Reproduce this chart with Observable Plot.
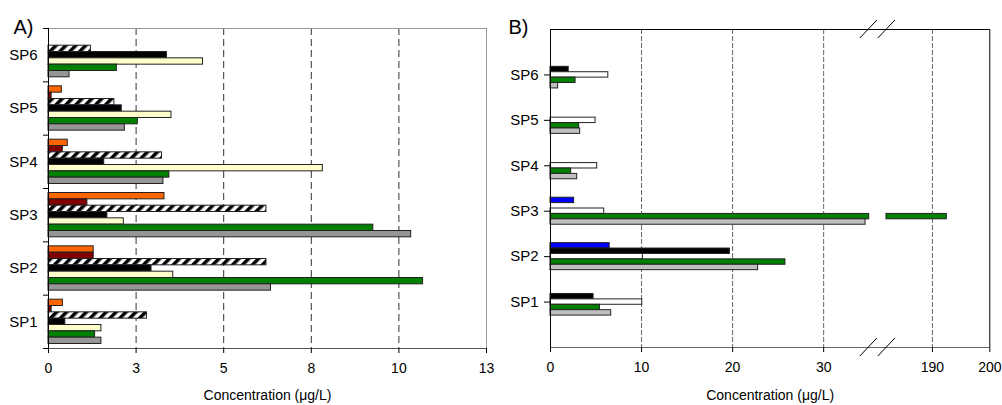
<!DOCTYPE html>
<html><head><meta charset="utf-8">
<script src="https://cdn.jsdelivr.net/npm/d3@7"></script>
<script src="https://cdn.jsdelivr.net/npm/@observablehq/plot@0.6"></script>
<style>
body{margin:0;background:#fff;}
#wrap{position:relative;width:1002px;height:405px;font-family:"Liberation Sans",Arial,sans-serif;}
#wrap svg{position:absolute;top:0;overflow:visible;}
</style></head><body><div id="wrap"></div>
<script>
// ---------- data ----------
const categories = ["SP1","SP2","SP3","SP4","SP5","SP6"];

// Panel A series (values for SP1..SP6), listed top-to-bottom within each group
const a_orange  = [0.41, 1.29, 3.31, 0.55, 0.38, null];
const a_darkred = [0.09, 1.29, 1.11, 0.41, 0.09, null];
const a_hatched = [2.81, 6.22, 6.22, 3.24, 1.88, 1.21];
const a_black   = [0.48, 2.94, 1.68, 1.59, 2.09, 3.38];
const a_cream   = [1.51, 3.56, 2.15, 7.83, 3.51, 4.41];
const a_green   = [1.33, 10.69, 9.27, 3.45, 2.55, 1.95];
const a_gray    = [1.51, 6.35, 10.35, 3.28, 2.18, 0.60];
const colorsA = ["#ff6600","#800000","url(#hatchA)","#000000","#ffffcc","#008000","#969696"];
const xTicksA = [0, 2.5, 5, 7.5, 10, 12.5];
const xTickLabelsA = ["0","3","5","8","10","13"];
const gridA = [2.5, 5, 7.5, 10];

// Panel B series (values for SP1..SP6)
const b_blue  = [null, 6.5, 2.6, null, null, null];
const b_black = [4.73, 19.7, null, null, null, 2.0];
const b_white = [10.08, 10.15, 5.9, 5.13, 4.95, 6.35];
const b_green = [5.43, 25.8, 192.5, 2.27, 3.15, 2.75];
const b_gray  = [6.67, 22.8, 34.6, 2.93, 3.26, 0.84];
const colorsB = ["#0000ff","#000000","#ffffff","#008000","#c0c0c0"];
const xTicksB = [0, 10, 20, 30, 190, 200];
const gridB = [10, 20, 30, 190];
const axisBreakB = [35, 182];

const axisTitle = "Concentration (\u03bcg/L)";
const font = "'Liberation Sans', Arial, sans-serif";

// ---------- panel A ----------
const seriesA = [a_orange, a_darkred, a_hatched, a_black, a_cream, a_green, a_gray];
const hA = 0.1187, padA = (1 - seriesA.length * hA) / 2;
const rowsA = seriesA.map((vals, k) => vals.map((v, i) => v == null ? null : {
  cat: categories[i], x: v,
  y1: i + 1 - padA - k * hA, y2: i + 1 - padA - (k + 1) * hA
}).filter(d => d));

const chartA = Plot.plot({
  width: 500, height: 405,
  marginLeft: 48, marginRight: 14, marginTop: 28, marginBottom: 57,
  style: {fontFamily: font, fontSize: "14px", color: "#000", background: "transparent", overflow: "visible"},
  x: {type: "linear", domain: [0, 12.5]},
  y: {type: "linear", domain: [0, categories.length]},
  marks: [
    Plot.ruleX(gridA, {x: d => d, stroke: "#333", strokeDasharray: "7,4"}),
    ...rowsA.map((rows, k) => Plot.rectX(rows, {x1: 0, x2: "x", y1: "y1", y2: "y2", fill: colorsA[k], stroke: "#222", strokeWidth: 1})),
    Plot.ruleY([categories.length], {stroke: "#999"}),
    Plot.ruleX([12.5], {stroke: "#999"}),
    Plot.ruleY([0], {stroke: "#555"}),
    Plot.ruleX([0], {stroke: "#000"}),
    Plot.axisY(d3.range(categories.length + 1), {tickSize: 5, fill: "none", tickFormat: () => "", label: null, stroke: "#000"}),
    Plot.axisY(d3.range(categories.length).map(i => i + 0.5), {tickSize: 0, tickPadding: 11, fontSize: 15, tickFormat: d => categories[Math.floor(d)], label: null}),
    Plot.axisX(xTicksA, {tickSize: 5, tickPadding: 10, fontSize: 14, tickFormat: d => xTickLabelsA[xTicksA.indexOf(d)], label: null, stroke: "#000"}),
    Plot.text([axisTitle], {text: d => d, frameAnchor: "bottom", dy: 51, lineAnchor: "bottom", fontSize: 14}),
    Plot.text(["A)"], {text: d => d, frameAnchor: "top-left", dx: -35, dy: 5, lineAnchor: "bottom", textAnchor: "start", fontSize: 20})
  ]
});
{
  const defs = d3.select(chartA).insert("defs", ":first-child");
  const p = defs.append("pattern").attr("id", "hatchA").attr("patternUnits", "userSpaceOnUse")
    .attr("width", 7).attr("height", 7).attr("patternTransform", "rotate(45)");
  p.append("rect").attr("width", 7).attr("height", 7).attr("fill", "#fff");
  p.append("rect").attr("width", 3.5).attr("height", 7).attr("fill", "#000");
}
chartA.style.left = "0px";
document.getElementById("wrap").appendChild(chartA);

// ---------- panel B ----------
const seriesB = [b_blue, b_black, b_white, b_green, b_gray];
const hB = 0.119;
const rowsB = seriesB.map((vals, k) => {
  const out = [];
  vals.forEach((v, i) => {
    if (v == null) return;
    const pos = i + 1;
    const y1 = pos + (seriesB.length / 2) * hB - k * hB, y2 = y1 - hB;
    if (v > axisBreakB[0]) {
      out.push({x1: 0, x2: axisBreakB[0], y1, y2});
      out.push({x1: axisBreakB[1], x2: v, y1, y2});
    } else out.push({x1: 0, x2: v, y1, y2});
  });
  return out;
});

const wB = 502, mlB = 50, mrB = 12.7;
const fx0 = mlB, fx1 = wB - mrB;
const chartB = Plot.plot({
  width: wB, height: 405,
  marginLeft: mlB, marginRight: mrB, marginTop: 29, marginBottom: 58,
  style: {fontFamily: font, fontSize: "14px", color: "#000", background: "transparent", overflow: "visible"},
  x: {type: "linear", domain: [0, axisBreakB[0], axisBreakB[1], 200], range: [fx0, fx0 + 318.7, fx0 + 336, fx1]},
  y: {type: "linear", domain: [0, categories.length + 1]},
  marks: [
    Plot.ruleX(gridB, {x: d => d, stroke: "#666", strokeDasharray: "5,2"}),
    ...rowsB.map((rows, k) => Plot.rectX(rows, {x1: "x1", x2: "x2", y1: "y1", y2: "y2", fill: colorsB[k], stroke: "#222", strokeWidth: 1})),
    Plot.ruleY([categories.length + 1], {stroke: "#000"}),
    Plot.ruleX([200], {stroke: "#000"}),
    Plot.ruleY([0], {stroke: "#666"}),
    Plot.ruleX([0], {stroke: "#000"}),
    Plot.axisY(d3.range(1, categories.length + 1), {tickSize: 6, tickPadding: 6, fontSize: 15, tickFormat: d => categories[d - 1], label: null, stroke: "#000"}),
    Plot.axisX(xTicksB, {tickSize: 5, tickPadding: 10, fontSize: 14, tickFormat: d => String(d), label: null, stroke: "#000"}),
    Plot.text([axisTitle], {text: d => d, frameAnchor: "bottom", dy: 52, lineAnchor: "bottom", fontSize: 14}),
    Plot.text(["B)"], {text: d => d, frameAnchor: "top-left", dx: -42, dy: 4, lineAnchor: "bottom", textAnchor: "start", fontSize: 20})
  ]
});
{
  const xs = chartB.scale("x"), ys = chartB.scale("y");
  const cx = (xs.apply(axisBreakB[0]) + xs.apply(axisBreakB[1])) / 2;
  const g = d3.select(chartB).append("g").attr("stroke", "#000").attr("stroke-width", 1);
  [ys.apply(categories.length + 1), ys.apply(0)].forEach(y => {
    [-9, 9].forEach(off => {
      g.append("line").attr("x1", cx + off - 8.5).attr("y1", y + 9).attr("x2", cx + off + 8.5).attr("y2", y - 9);
    });
  });
}
chartB.style.left = "500px";
document.getElementById("wrap").appendChild(chartB);
</script></body></html>
